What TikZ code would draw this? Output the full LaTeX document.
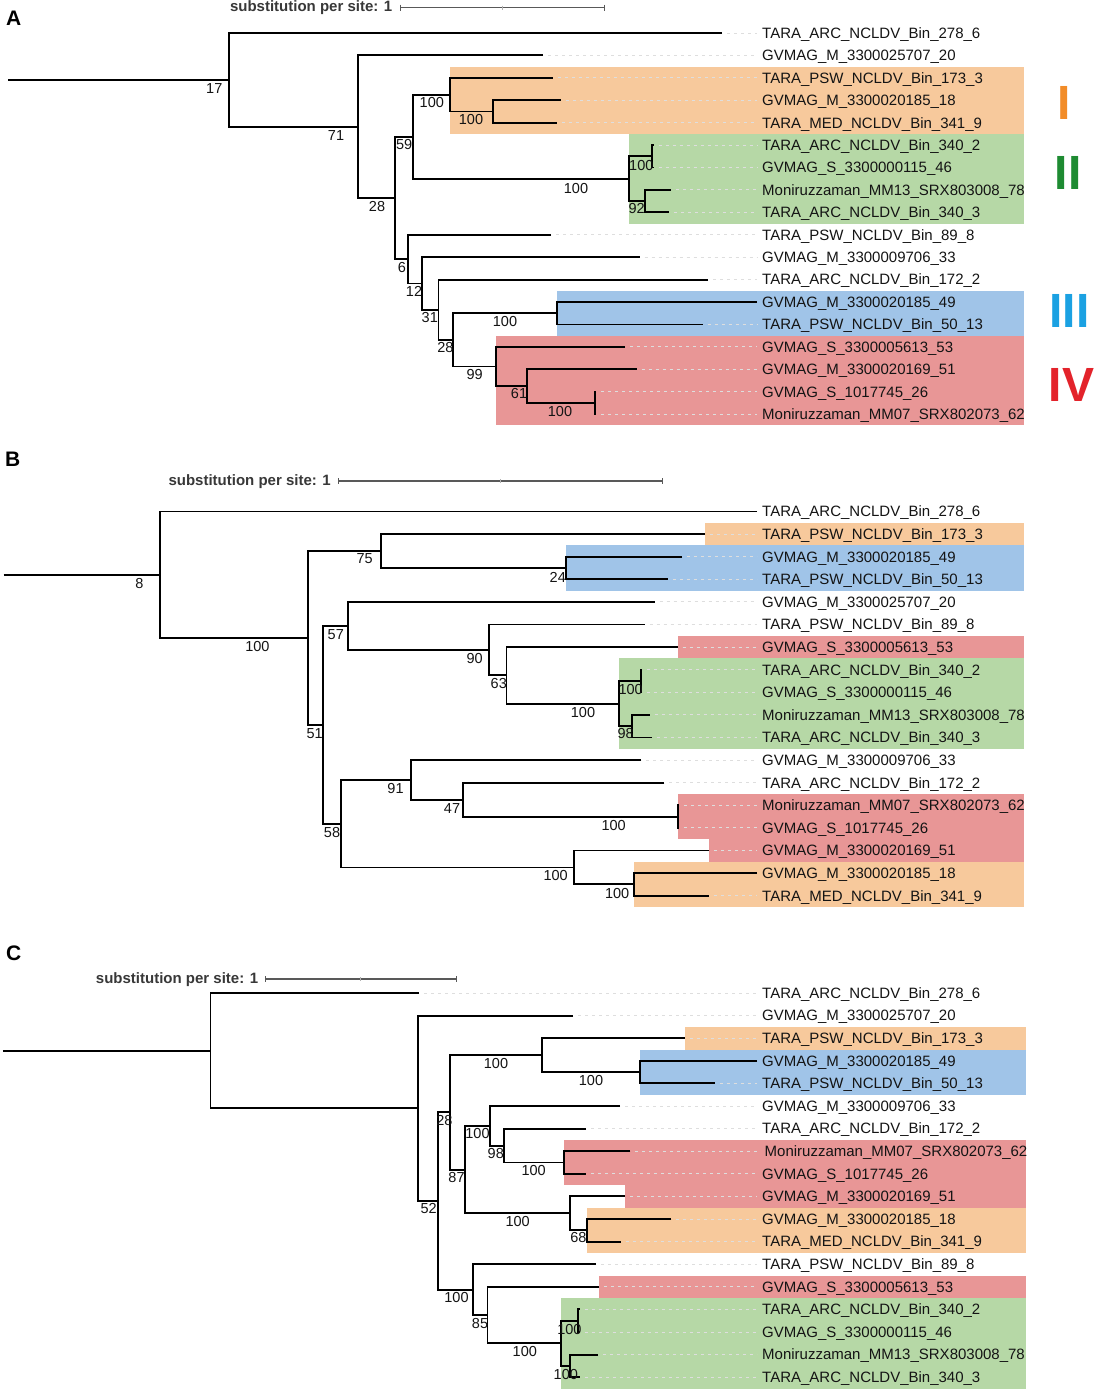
\documentclass[tikz,border=0pt]{standalone}
\usepackage{fontspec}
\setmainfont{Liberation Sans}
\definecolor{obox}{HTML}{F7C99C}
\definecolor{gbox}{HTML}{B6D8A6}
\definecolor{bbox}{HTML}{A0C4E8}
\definecolor{rbox}{HTML}{E89696}
\definecolor{onum}{HTML}{F28C28}
\definecolor{gnum}{HTML}{1E8B32}
\definecolor{bnum}{HTML}{1BA1E2}
\definecolor{rnum}{HTML}{E3232B}
\tikzset{
  br/.style={draw=black, line width=1.9pt, line join=miter},
  ldr/.style={draw=black!13, line width=1pt, dash pattern=on 3pt off 4pt},
  leaflab/.style={font=\fontsize{15}{18}\selectfont, inner sep=0pt, anchor=base west, text=black!92},
  bs/.style={font=\fontsize{14.5}{17}\selectfont, inner sep=0pt, text=black!92},
  sbl/.style={draw=black!65, line width=1.4pt},
  sbtext/.style={font=\bfseries\fontsize{15}{18}\selectfont, inner sep=0pt, anchor=base east, text=black!78},
  plet/.style={font=\bfseries\fontsize{21}{24}\selectfont, inner sep=0pt, anchor=base west},
  rnm/.style={font=\bfseries\fontsize{48}{50}\selectfont, inner sep=0pt, anchor=base}
}
\newcommand\leafx[5][762]{\coordinate (#2) at (#3,#4);
  \draw[ldr] ([xshift=5pt]#2) -- (757,#4);
  \node[leaflab] (#2t) at (#1,#4+5.3) {#5};}
\newcommand\leafn[4]{\coordinate (#1) at (#2,#3);
  \node[leaflab] (#1t) at (762,#3+5.3) {#4};}
\newcommand\kids[3]{\draw[br] (#2) -| (#1) |- (#3);}
\newcommand\scbar[6]{% name x0 x1 y xm textbase
  \coordinate (#1a) at (#2,#4); \coordinate (#1b) at (#3,#4);
  \draw[sbl] (#1a) -- (#1b);
  \draw[sbl, line width=1pt] ([yshift=3pt]#1a) -- ([yshift=-3pt]#1a);
  \draw[sbl, line width=1pt] ([yshift=3pt]#1b) -- ([yshift=-3pt]#1b);
  \draw[black!30, line width=0.6pt] (#5,#4-2) -- (#5,#4+2);
  \node[sbtext] (#1t) at (#2-7.5,#6) {substitution per site: 1};}
\begin{document}
\begin{tikzpicture}[x=1pt,y=-1pt]
\useasboundingbox (0,0) rectangle (1100,1392);
\fill[white] (0,0) rectangle (1100,1392);
% ================= PANEL A =================
\fill[obox] (450,66.6) rectangle (1024,134);
\fill[gbox] (628.6,134) rectangle (1024,223.6);
\fill[bbox] (557,290.8) rectangle (1024,335.7);
\fill[rbox] (496.3,335.7) rectangle (1024,425.3);
\node[plet] (PA) at (6,25) {A};
\scbar{Asb}{400}{604}{7.5}{502}{12}
\node[rnm, text=onum] (RI) at (1064.5,119) {I};
\node[rnm, text=gnum] (RII) at (1068,189) {II};
\node[rnm, text=bnum] (RIII) at (1069.6,327.7) {III};
\node[rnm, text=rnum] (RIV) at (1071.5,401.7) {IV};
\coordinate (Aroot) at (8,79.8);
\coordinate (A17) at (229,79.8);
\coordinate (A71) at (358,126.65);
\coordinate (A28) at (395,197.9);
\coordinate (A59) at (413,136.7);
\coordinate (A100a) at (450,94.65);
\coordinate (A100b) at (493,111.5);
\coordinate (A100g) at (628.6,178.7);
\coordinate (A100c) at (652,156.3);
\coordinate (A92) at (645,201.15);
\coordinate (A6) at (407.6,259.15);
\coordinate (A12) at (421.6,283.5);
\coordinate (A31) at (438.5,309.75);
\coordinate (A28b) at (453,339.9);
\coordinate (A100bl) at (557,313.25);
\coordinate (A99) at (496.3,366.5);
\coordinate (A61) at (527,386.1);
\coordinate (A100r) at (595,402.9);
\leafx{AL1}{722}{33}{TARA\_ARC\_NCLDV\_Bin\_278\_6}
\leafx{AL2}{543}{55.4}{GVMAG\_M\_3300025707\_20}
\leafx{AL3}{552.7}{77.8}{TARA\_PSW\_NCLDV\_Bin\_173\_3}
\leafx{AL4}{560.7}{100.3}{GVMAG\_M\_3300020185\_18}
\leafx{AL5}{557}{122.7}{TARA\_MED\_NCLDV\_Bin\_341\_9}
\leafx{AL6}{653.5}{145.1}{TARA\_ARC\_NCLDV\_Bin\_340\_2}
\leafx{AL7}{653.5}{167.5}{GVMAG\_S\_3300000115\_46}
\leafx{AL8}{671}{189.9}{Moniruzzaman\_MM13\_SRX803008\_78}
\leafx{AL9}{669}{212.4}{TARA\_ARC\_NCLDV\_Bin\_340\_3}
\leafx{AL10}{551}{234.8}{TARA\_PSW\_NCLDV\_Bin\_89\_8}
\leafx{AL11}{639.7}{257.2}{GVMAG\_M\_3300009706\_33}
\leafx{AL12}{708}{279.6}{TARA\_ARC\_NCLDV\_Bin\_172\_2}
\leafn{AL13}{757}{302}{GVMAG\_M\_3300020185\_49}
\leafx{AL14}{702.7}{324.5}{TARA\_PSW\_NCLDV\_Bin\_50\_13}
\leafx{AL15}{625}{346.9}{GVMAG\_S\_3300005613\_53}
\leafx{AL16}{636.6}{369.3}{GVMAG\_M\_3300020169\_51}
\leafx{AL17}{596}{391.7}{GVMAG\_S\_1017745\_26}
\leafx{AL18}{596}{414.1}{Moniruzzaman\_MM07\_SRX802073\_62}
\draw[br] (Aroot) -- (A17);
\kids{A17}{AL1}{A71}
\kids{A71}{AL2}{A28}
\kids{A28}{A59}{A6}
\kids{A59}{A100a}{A100g}
\kids{A100a}{AL3}{A100b}
\kids{A100b}{AL4}{AL5}
\kids{A100g}{A100c}{A92}
\kids{A100c}{AL6}{AL7}
\kids{A92}{AL8}{AL9}
\kids{A6}{AL10}{A12}
\kids{A12}{AL11}{A31}
\kids{A31}{AL12}{A28b}
\kids{A28b}{A100bl}{A99}
\kids{A100bl}{AL13}{AL14}
\kids{A99}{AL15}{A61}
\kids{A61}{AL16}{A100r}
\kids{A100r}{AL17}{AL18}
\node[bs] (Ab17) at (214.3,88.5) {17};
\node[bs] (Ab71) at (336,135.3) {71};
\node[bs] (Ab28) at (377,206.3) {28};
\node[bs] (Ab100a) at (431.8,102.8) {100};
\node[bs] (Ab100b) at (471,119.5) {100};
\node[bs] (Ab59) at (404.2,144.5) {59};
\node[bs] (Ab100g) at (576,189) {100};
\node[bs] (Ab100c) at (641.3,166) {100};
\node[bs] (Ab92) at (636.6,208.5) {92};
\node[bs] (Ab6) at (402,267.7) {6};
\node[bs] (Ab12) at (414,291.7) {12};
\node[bs] (Ab31) at (429.8,317.8) {31};
\node[bs] (Ab28b) at (445.4,347.8) {28};
\node[bs] (Ab100bl) at (505,321.5) {100};
\node[bs] (Ab99) at (474.7,374.2) {99};
\node[bs] (Ab61) at (519,394) {61};
\node[bs] (Ab100r) at (560,412) {100};
% ================= PANEL B =================
\fill[obox] (705,522.8) rectangle (1024,545.4);
\fill[bbox] (566,545.4) rectangle (1024,590.6);
\fill[rbox] (678,635.8) rectangle (1024,658.4);
\fill[gbox] (618.75,658.4) rectangle (1024,748.8);
\fill[rbox] (678,794) rectangle (1024,839.2);
\fill[rbox] (709.4,839) rectangle (1024,861.8);
\fill[obox] (634.4,861.8) rectangle (1024,907);
\node[plet] (PB) at (5,466.7) {B};
\scbar{Bsb}{338.5}{662}{481}{500}{485.5}
\coordinate (Broot) at (3.5,574.7);
\coordinate (B8) at (159.6,574.7);
\coordinate (B100) at (307.6,637.9);
\coordinate (B75) at (380.6,551.05);
\coordinate (B24) at (566,568);
\coordinate (B51) at (322.7,724.8);
\coordinate (B57) at (348.3,625.9);
\coordinate (B90) at (489.3,649.9);
\coordinate (B63) at (506.5,675.35);
\coordinate (B100g) at (618.75,703.6);
\coordinate (B100c) at (641,681);
\coordinate (B98) at (631.7,726.2);
\coordinate (B58) at (340.6,823.7);
\coordinate (B91) at (410.7,779.9);
\coordinate (B47) at (463,799.65);
\coordinate (B100r) at (678,816.6);
\coordinate (B100x) at (573.7,867.45);
\coordinate (B100o) at (634.4,884.4);
\leafn{BL1}{757}{511.5}{TARA\_ARC\_NCLDV\_Bin\_278\_6}
\leafx{BL2}{705}{534.1}{TARA\_PSW\_NCLDV\_Bin\_173\_3}
\leafx{BL3}{682}{556.7}{GVMAG\_M\_3300020185\_49}
\leafx{BL4}{668}{579.3}{TARA\_PSW\_NCLDV\_Bin\_50\_13}
\leafx{BL5}{654.5}{601.9}{GVMAG\_M\_3300025707\_20}
\leafx{BL6}{644.6}{624.5}{TARA\_PSW\_NCLDV\_Bin\_89\_8}
\leafx{BL7}{677.7}{647.1}{GVMAG\_S\_3300005613\_53}
\leafx{BL8}{642}{669.7}{TARA\_ARC\_NCLDV\_Bin\_340\_2}
\leafx{BL9}{642}{692.3}{GVMAG\_S\_3300000115\_46}
\leafx{BL10}{649.5}{714.9}{Moniruzzaman\_MM13\_SRX803008\_78}
\leafx{BL11}{651.5}{737.5}{TARA\_ARC\_NCLDV\_Bin\_340\_3}
\leafx{BL12}{641.3}{760.1}{GVMAG\_M\_3300009706\_33}
\leafx{BL13}{664.3}{782.7}{TARA\_ARC\_NCLDV\_Bin\_172\_2}
\leafx{BL14}{679}{805.3}{Moniruzzaman\_MM07\_SRX802073\_62}
\leafx{BL15}{679}{827.9}{GVMAG\_S\_1017745\_26}
\leafx{BL16}{709.4}{850.5}{GVMAG\_M\_3300020169\_51}
\leafn{BL17}{757}{873.1}{GVMAG\_M\_3300020185\_18}
\leafx{BL18}{709}{895.7}{TARA\_MED\_NCLDV\_Bin\_341\_9}
\draw[br] (Broot) -- (B8);
\kids{B8}{BL1}{B100}
\kids{B100}{B75}{B51}
\kids{B75}{BL2}{B24}
\kids{B24}{BL3}{BL4}
\kids{B51}{B57}{B58}
\kids{B57}{BL5}{B90}
\kids{B90}{BL6}{B63}
\kids{B63}{BL7}{B100g}
\kids{B100g}{B100c}{B98}
\kids{B100c}{BL8}{BL9}
\kids{B98}{BL10}{BL11}
\kids{B58}{B91}{B100x}
\kids{B91}{BL12}{B47}
\kids{B47}{BL13}{B100r}
\kids{B100r}{BL14}{BL15}
\kids{B100x}{BL16}{B100o}
\kids{B100o}{BL17}{BL18}
\node[bs] (Bb8) at (139.4,583.3) {8};
\node[bs] (Bb100) at (257.4,646.7) {100};
\node[bs] (Bb75) at (364.6,558.8) {75};
\node[bs] (Bb24) at (557.8,577.2) {24};
\node[bs] (Bb57) at (335.8,634.2) {57};
\node[bs] (Bb90) at (474.7,658.3) {90};
\node[bs] (Bb63) at (498.8,683.8) {63};
\node[bs] (Bb100c) at (630.6,689.7) {100};
\node[bs] (Bb100g) at (583,712.2) {100};
\node[bs] (Bb98) at (625.7,733.8) {98};
\node[bs] (Bb51) at (314.7,733.3) {51};
\node[bs] (Bb91) at (395.5,788.7) {91};
\node[bs] (Bb47) at (452,808.3) {47};
\node[bs] (Bb100r) at (613.6,825.2) {100};
\node[bs] (Bb58) at (332,832.5) {58};
\node[bs] (Bb100x) at (555.6,875.8) {100};
\node[bs] (Bb100o) at (617.2,893.2) {100};
% ================= PANEL C =================
\fill[obox] (684.8,1026.9) rectangle (1026,1049.5);
\fill[bbox] (640.2,1049.5) rectangle (1026,1094.7);
\fill[rbox] (563.8,1139.9) rectangle (1026,1185.1);
\fill[rbox] (625.2,1185) rectangle (1026,1207.7);
\fill[obox] (587,1207.7) rectangle (1026,1252.9);
\fill[rbox] (599,1275.5) rectangle (1026,1298.1);
\fill[gbox] (560.7,1298.1) rectangle (1026,1388.5);
\node[plet] (PC) at (6,960) {C};
\scbar{Csb}{265.9}{456}{979}{360.6}{983.5}
\coordinate (Croot) at (2.8,1050.65);
\coordinate (Cr) at (210.5,1050.65);
\coordinate (Cu) at (418.2,1108.3);
\coordinate (C52) at (438.4,1201);
\coordinate (C28) at (449.6,1112.4);
\coordinate (C100a) at (542,1055.15);
\coordinate (C100b) at (640.2,1072.1);
\coordinate (C87) at (465.2,1169.6);
\coordinate (C100c) at (489.7,1125.8);
\coordinate (C98) at (503.6,1145.55);
\coordinate (C100d) at (563.8,1162.5);
\coordinate (C100e) at (570,1213.35);
\coordinate (C68) at (587,1230.3);
\coordinate (C100) at (473.2,1289.6);
\coordinate (C85) at (487.5,1315.05);
\coordinate (C100g) at (561,1343.3);
\coordinate (C100h) at (578,1320.7);
\coordinate (C100i) at (570,1365.9);
\leafx{CL1}{419}{993}{TARA\_ARC\_NCLDV\_Bin\_278\_6}
\leafx{CL2}{573}{1015.6}{GVMAG\_M\_3300025707\_20}
\leafx{CL3}{684.8}{1038.2}{TARA\_PSW\_NCLDV\_Bin\_173\_3}
\leafn{CL4}{757}{1060.8}{GVMAG\_M\_3300020185\_49}
\leafx{CL5}{714.7}{1083.4}{TARA\_PSW\_NCLDV\_Bin\_50\_13}
\leafx{CL6}{620}{1106}{GVMAG\_M\_3300009706\_33}
\leafx{CL7}{586.2}{1128.6}{TARA\_ARC\_NCLDV\_Bin\_172\_2}
\leafx[764.5]{CL8}{630.4}{1151.2}{Moniruzzaman\_MM07\_SRX802073\_62}
\leafx{CL9}{586.2}{1173.8}{GVMAG\_S\_1017745\_26}
\leafx{CL10}{625.2}{1196.4}{GVMAG\_M\_3300020169\_51}
\leafx{CL11}{671.4}{1219}{GVMAG\_M\_3300020185\_18}
\leafx{CL12}{621}{1241.6}{TARA\_MED\_NCLDV\_Bin\_341\_9}
\leafx{CL13}{596.2}{1264.2}{TARA\_PSW\_NCLDV\_Bin\_89\_8}
\leafx{CL14}{599}{1286.8}{GVMAG\_S\_3300005613\_53}
\leafx{CL15}{579.5}{1309.4}{TARA\_ARC\_NCLDV\_Bin\_340\_2}
\leafx{CL16}{579.5}{1332}{GVMAG\_S\_3300000115\_46}
\leafx{CL17}{598}{1354.6}{Moniruzzaman\_MM13\_SRX803008\_78}
\leafx{CL18}{580.4}{1377.2}{TARA\_ARC\_NCLDV\_Bin\_340\_3}
\draw[br] (Croot) -- (Cr);
\kids{Cr}{CL1}{Cu}
\kids{Cu}{CL2}{C52}
\kids{C52}{C28}{C100}
\kids{C28}{C100a}{C87}
\kids{C100a}{CL3}{C100b}
\kids{C100b}{CL4}{CL5}
\kids{C87}{C100c}{C100e}
\kids{C100c}{CL6}{C98}
\kids{C98}{CL7}{C100d}
\kids{C100d}{CL8}{CL9}
\kids{C100e}{CL10}{C68}
\kids{C68}{CL11}{CL12}
\kids{C100}{CL13}{C85}
\kids{C85}{CL14}{C100g}
\kids{C100g}{C100h}{C100i}
\kids{C100h}{CL15}{CL16}
\kids{C100i}{CL17}{CL18}
\node[bs] (Cb100a) at (496,1063.5) {100};
\node[bs] (Cb100b) at (591,1080.2) {100};
\node[bs] (Cb28) at (444.4,1120.8) {28};
\node[bs] (Cb100c) at (477.5,1133.5) {100};
\node[bs] (Cb98) at (495.8,1153.3) {98};
\node[bs] (Cb100d) at (533.7,1170.2) {100};
\node[bs] (Cb87) at (456.5,1177.5) {87};
\node[bs] (Cb100e) at (517.7,1221.5) {100};
\node[bs] (Cb68) at (578.4,1237.8) {68};
\node[bs] (Cb52) at (428.6,1208.8) {52};
\node[bs] (Cb100) at (456.5,1297.8) {100};
\node[bs] (Cb85) at (480,1323.5) {85};
\node[bs] (Cb100h) at (569.4,1329.2) {100};
\node[bs] (Cb100g) at (524.8,1351.8) {100};
\node[bs] (Cb100i) at (565.8,1374.2) {100};
\end{tikzpicture}
\end{document}
